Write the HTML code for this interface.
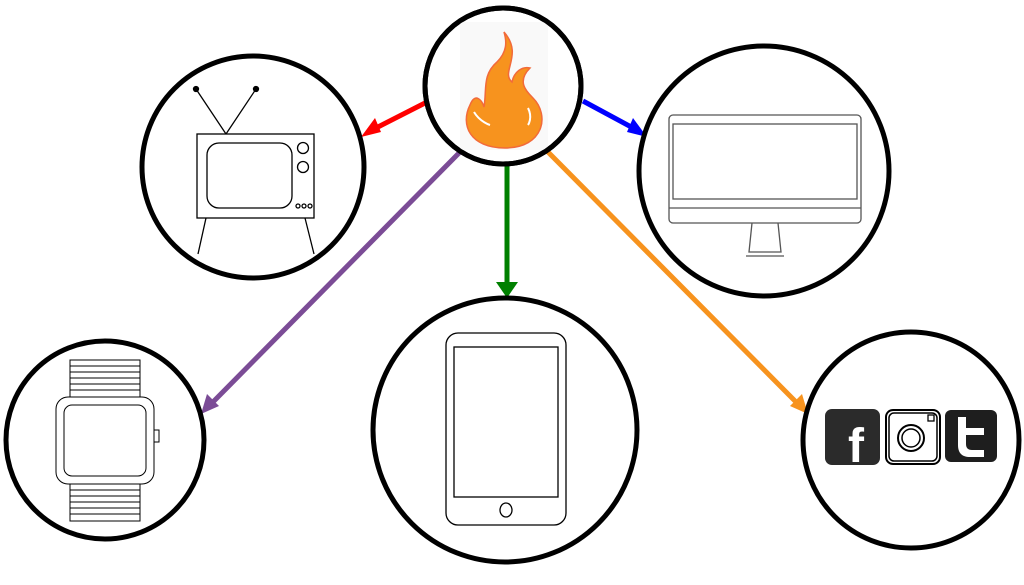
<!DOCTYPE html>
<html><head><style>body{margin:0;background:#fff}svg{display:block}</style></head><body>
<svg width="1024" height="585" viewBox="0 0 1024 585" xmlns="http://www.w3.org/2000/svg">
<!-- connectors -->
<g stroke-width="5" fill="none">
<line x1="425" y1="103" x2="372" y2="130" stroke="#ff0000"/>
<path d="M361,137 l14,-19 l6,14 z" fill="#ff0000" stroke="none"/>
<line x1="583" y1="101" x2="635" y2="129" stroke="#0000ff"/>
<path d="M647,137 l-14,-19 l-6,14 z" fill="#0000ff" stroke="none"/>
<line x1="507" y1="165" x2="507" y2="284" stroke="#008000"/>
<path d="M496,282 l11,16 l11,-16 z" fill="#008000" stroke="none"/>
<line x1="460" y1="152" x2="212" y2="403" stroke="#7b4c96"/>
<path d="M201,414 l6,-20 l12,12 z" fill="#7b4c96" stroke="none"/>
<line x1="548" y1="152" x2="797" y2="403" stroke="#f7931e"/>
<path d="M808,414 l-6,-20 l-12,12 z" fill="#f7931e" stroke="none"/>
</g>
<!-- circles -->
<g fill="#fff" stroke="#000" stroke-width="5">
<circle cx="503" cy="86" r="78"/>
<circle cx="253" cy="167" r="111"/>
<circle cx="764" cy="171" r="125"/>
<circle cx="105" cy="440" r="99"/>
<circle cx="505" cy="430" r="132"/>
<circle cx="911" cy="440" r="108"/>
</g>
<!-- fire -->
<rect x="460" y="22" width="88" height="128" fill="#f9f9f9"/>
<circle cx="503" cy="86" r="78" fill="none" stroke="#000" stroke-width="5"/>
<path d="M504,32 C524,55 500,72 512,82 C514,72 522,66 530,68 C516,82 527,92 533,98 C550,115 544,148 505,148 C470,148 460,125 470,105 C475,92 482,100 484,107 C487,90 482,75 497,62 C507,52 507,42 504,32 Z" fill="#f7931e" stroke="#f26a3a" stroke-width="1.5"/>
<path d="M474,112 C480,122 490,125 490,125" stroke="#fff" stroke-width="2" fill="none"/>
<path d="M528,108 C533,118 528,125 528,125" stroke="#fff" stroke-width="2" fill="none"/>
<!-- TV -->
<g stroke="#000" fill="none" stroke-width="1.3">
<line x1="196" y1="89" x2="226" y2="134"/><line x1="256" y1="89" x2="226" y2="134"/>
<circle cx="196" cy="89" r="2.5" fill="#000"/><circle cx="256" cy="89" r="2.5" fill="#000"/>
<rect x="197" y="134" width="117" height="84"/>
<rect x="207" y="143" width="85" height="65" rx="12"/>
<circle cx="303" cy="148" r="5.5"/><circle cx="303" cy="167" r="5.5"/>
<circle cx="298" cy="206" r="2"/><circle cx="304" cy="206" r="2"/><circle cx="310" cy="206" r="2"/>
<line x1="206" y1="218" x2="198" y2="254"/><line x1="305" y1="218" x2="314" y2="254"/>
</g>
<!-- monitor -->
<g stroke="#555" fill="none" stroke-width="1.3">
<rect x="669" y="115" width="192" height="108" rx="4"/>
<rect x="673" y="124" width="184" height="75"/>
<line x1="669" y1="208" x2="861" y2="208"/>
<path d="M752,223 L749,252 L781,252 L778,223"/>
<line x1="746" y1="256" x2="784" y2="256"/>
</g>
<!-- watch -->
<g stroke="#000" fill="none" stroke-width="1">
<g>
<rect x="70" y="360" width="70" height="6"/><rect x="70" y="366" width="70" height="6"/><rect x="70" y="372" width="70" height="6"/><rect x="70" y="378" width="70" height="6"/><rect x="70" y="384" width="70" height="6"/><rect x="70" y="390" width="70" height="7"/>
<rect x="70" y="484" width="70" height="6"/><rect x="70" y="490" width="70" height="6"/><rect x="70" y="496" width="70" height="6"/><rect x="70" y="502" width="70" height="6"/><rect x="70" y="508" width="70" height="6"/><rect x="70" y="514" width="70" height="7"/>
</g>
<rect x="56" y="397" width="98" height="87" rx="12" fill="#fff"/>
<rect x="64" y="405" width="82" height="71" rx="8"/>
<rect x="154" y="430" width="5" height="12"/>
</g>
<!-- phone -->
<g stroke="#000" fill="none" stroke-width="1.3">
<rect x="446" y="333" width="120" height="192" rx="12"/>
<rect x="454" y="347" width="104" height="150"/>
<ellipse cx="506" cy="510" rx="6" ry="7"/>
</g>
<!-- social -->
<rect x="825" y="409" width="55" height="56" rx="7" fill="#2b2b2b"/>
<text x="848" y="462" font-family="Liberation Sans, sans-serif" font-weight="bold" font-size="48" fill="#fff">f</text>
<rect x="886" y="410" width="54" height="54" rx="7" fill="#fff" stroke="#000" stroke-width="2"/>
<rect x="889" y="413" width="48" height="48" rx="5" fill="none" stroke="#000" stroke-width="1.5"/>
<circle cx="911" cy="438" r="13" fill="none" stroke="#000" stroke-width="2"/>
<circle cx="911" cy="438" r="9" fill="none" stroke="#000" stroke-width="1.5"/>
<rect x="928" y="415" width="6" height="6" fill="none" stroke="#000" stroke-width="1.3"/>
<rect x="945" y="410" width="52" height="52" rx="6" fill="#1e1e1e"/>
<path d="M958,417 h8 v11 h18 v7 h-18 v9 c0,4 2,6 6,6 h12 v7 h-14 c-8,0 -12,-4 -12,-12 z" fill="#fff"/>
</svg>
</body></html>
